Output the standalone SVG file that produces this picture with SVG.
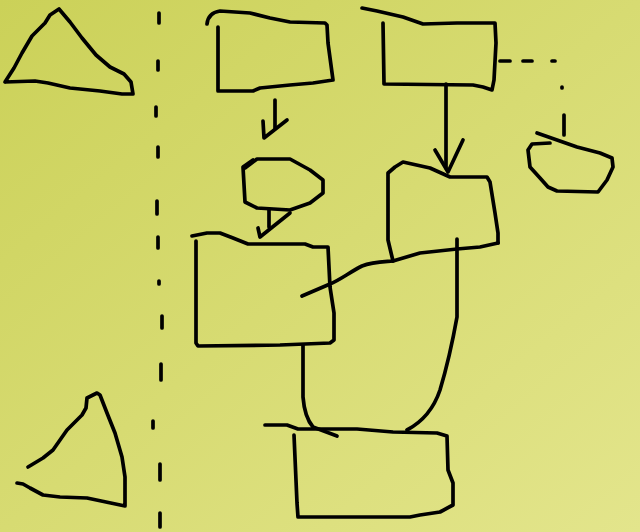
<svg xmlns="http://www.w3.org/2000/svg" width="640" height="532" viewBox="0 0 640 532">
<defs>
<linearGradient id="bg" x1="0" y1="0" x2="1" y2="1">
<stop offset="0" stop-color="#cbd158"/>
<stop offset="1" stop-color="#e3e58c"/>
</linearGradient>
<style>
.s{fill:none;stroke:#000;stroke-width:3.7;stroke-linecap:round;stroke-linejoin:round}
</style>
</defs>
<rect width="640" height="532" fill="url(#bg)"/>
<g id="divider" class="s">
<path d="M159,13 L159,23"/><path d="M158,61 L158,70"/><path d="M156,107 L156,116"/><path d="M158,147 L158,157"/><path d="M157,201 L157,214"/><path d="M158,237 L158,248"/><path d="M159,281 L159,284"/><path d="M162,316 L162,328"/><path d="M161,364 L161,380"/><path d="M153,421 L153,428"/><path d="M160,464 L160,480"/><path d="M160,513 L160,527"/>
</g>
<g id="triangle-top" class="s">
<path d="M5,82 L14,68 L22,53 L32,36 L45,23 L50,15 L59,9 L70,22 L82,38 L96,55 L110,67 L124,74 L131,82 L133,94 L122,94 L100,91 L70,88 L48,83 L35,81 L5,82"/>
</g>
<g id="triangle-bottom" class="s">
<path d="M28,467 L43,458 L53,450 L67,430 L82,415 L86,408 L87,398 L97,393 L100,395 L107,413 L115,433 L122,457 L125,477 L125,506 L87,498 L60,497 L43,495 L30,488 L23,484 L17,483"/>
</g>
<g id="box1" class="s">
<path d="M207,24 Q208,13 220,11 L250,13 L270,18 L290,22 L325,23 L327,25 L328,43 L333,80 L313,83 L290,85 L260,88 L253,91 L218,91 L218,27"/>
</g>
<g id="box2" class="s">
<path d="M362,8 L377,11 L403,17 L423,24 L457,23 L495,23 L496,43 L494,80 L492,90 L483,87 L473,85 L384,84 L383,23"/>
</g>
<g id="node-oct" class="s">
<path d="M245,168 L257,159 L290,159 L310,170 L323,180 L323,193 L310,203 L290,210 L257,208 L245,202 L243,167 L253,160"/>
</g>
<g id="node-small" class="s">
<path d="M537,133 L557,140 L577,147 L600,153 L612,158 L613,167 L607,180 L598,192 L557,191 L548,187 L540,178 L530,167 L528,150 L532,144 L550,143"/>
</g>
<g id="box3" class="s">
<path d="M192,236 L207,233 L220,233 L233,238 L248,244 L305,244 L313,247 L328,247 L330,287 L334,313 L334,340 L330,343 L280,345 L198,346 L196,343 L196,241"/>
</g>
<g id="box4" class="s">
<path d="M393,261 L388,240 L388,220 L388,173 L395,167 L403,162 L430,168 L450,177 L487,177 L490,182 L495,213 L498,233 L498,243"/>
</g>
<g id="box5" class="s">
<path d="M265,425 L287,425 L298,429 L357,429 L393,432 L437,433 L447,436 L448,470 L453,483 L453,505 L440,512 L420,515 L410,517 L298,517 L297,503 L294,435"/>
</g>
<g id="connectors" class="s">
<path d="M275,100 L275,128"/>
<path d="M263,121 L264,138 L287,120"/>
<path d="M269,210 L269,227"/>
<path d="M258,228 L260,237 L290,213"/>
<path d="M446,84 L446,168"/>
<path d="M435,150 L448,172 L463,140"/>
<path d="M498,243 L480,247 L457,249 L420,253 L393,261 C380,262 372,262 362,266 C350,272 340,280 330,284 L302,296"/>
<path d="M457,239 L457,317 C452,345 446,370 440,390 C434,408 422,422 407,430"/>
<path d="M303,345 L303,397 C304,410 307,420 313,427 L337,436"/>
<path d="M500,61 L510,61"/><path d="M523,61 L532,61"/><path d="M552,61 L555,61"/>
<path d="M562,87 L562,88"/>
<path d="M564,115 L564,135"/>
</g>
</svg>
